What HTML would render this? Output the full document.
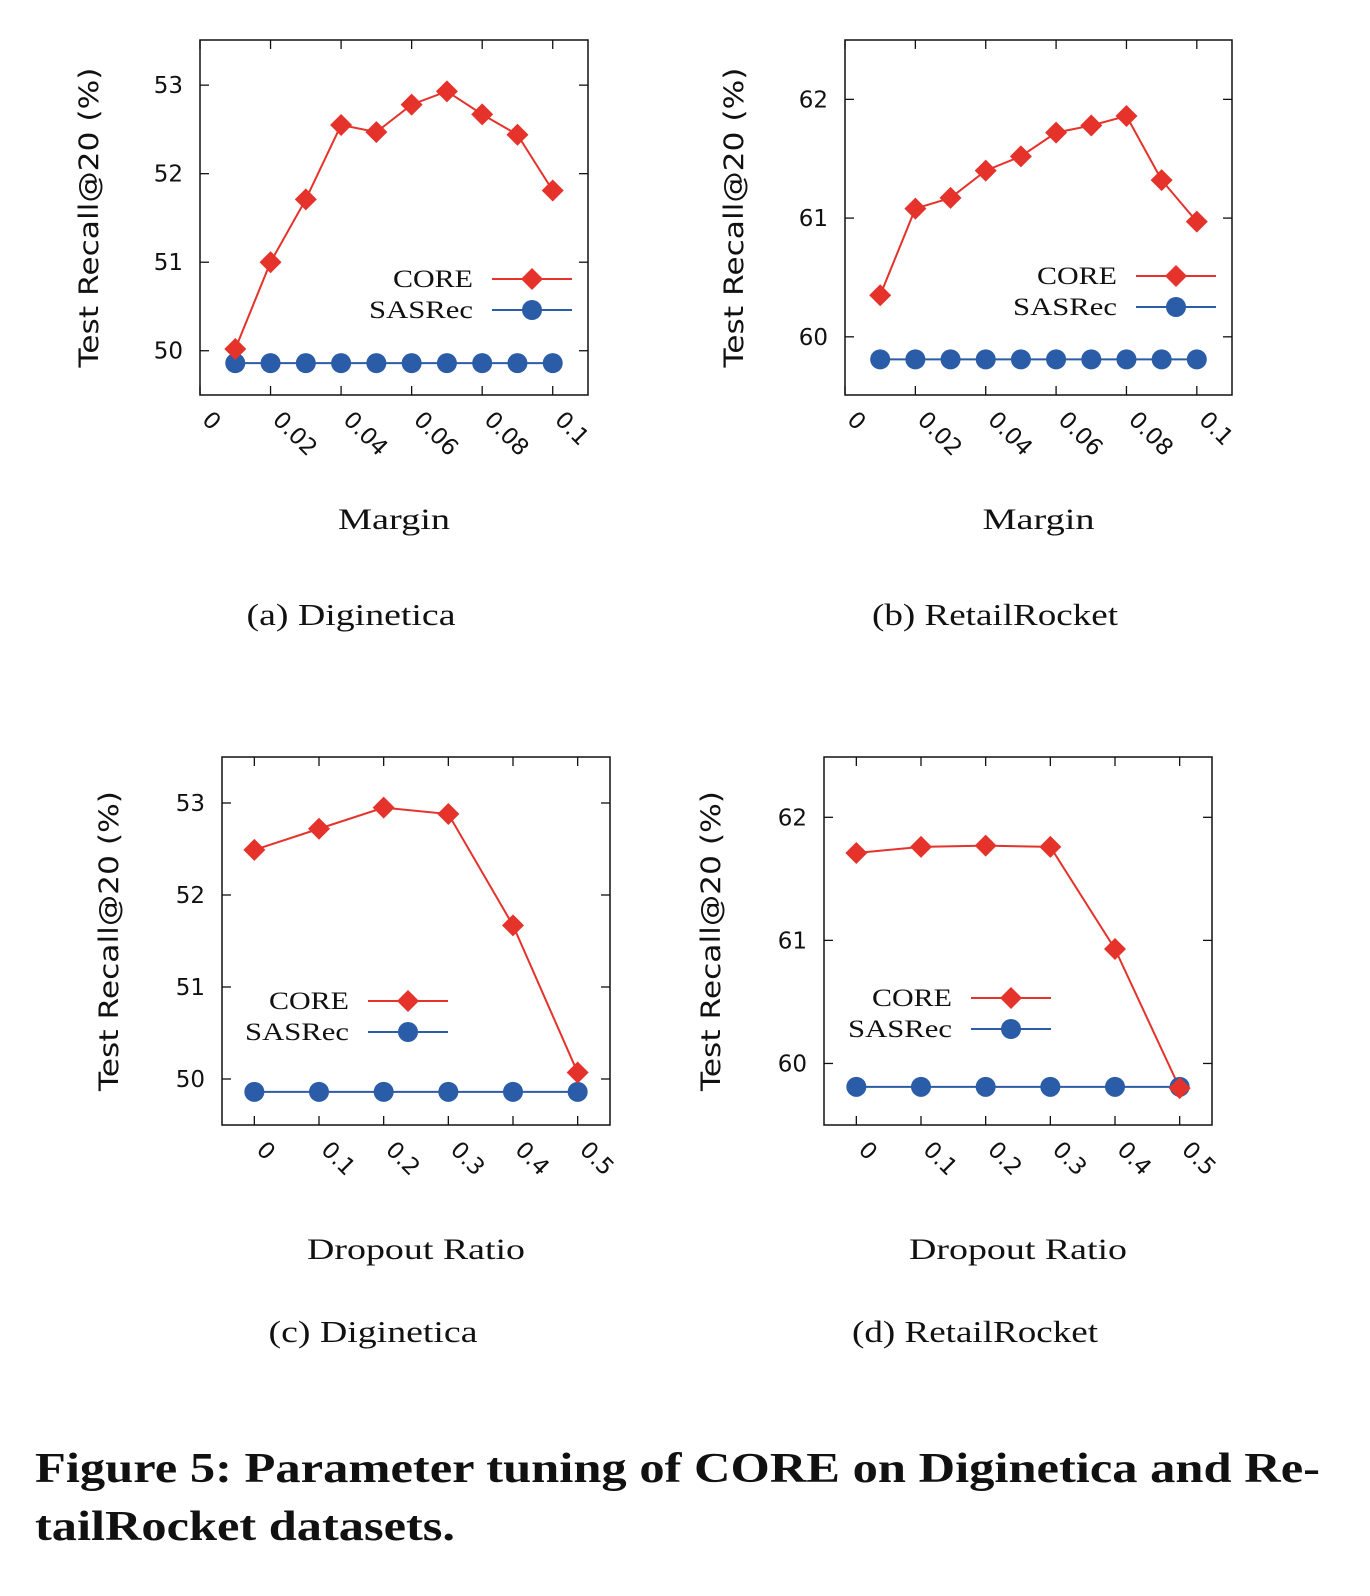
<!DOCTYPE html>
<html><head><meta charset="utf-8"><style>
body{margin:0;background:#fff;width:1370px;height:1596px;overflow:hidden}
svg{display:block}
text{font-family:"Liberation Serif",serif;fill:#111}
.sans{font-family:"DejaVu Sans","Liberation Sans",sans-serif}
</style></head><body>
<svg id="fig" width="1370" height="1596" viewBox="0 0 1370 1596">
<text x="35" y="1482" font-size="42" font-weight="bold" textLength="1285" lengthAdjust="spacingAndGlyphs">Figure 5: Parameter tuning of CORE on Diginetica and Re-</text>
<text x="35" y="1540" font-size="42" font-weight="bold" textLength="420" lengthAdjust="spacingAndGlyphs">tailRocket datasets.</text>
</svg>
<script>
const marginCats=[0.01,0.02,0.03,0.04,0.05,0.06,0.07,0.08,0.09,0.1];
const marginTicks=["0","0.02","0.04","0.06","0.08","0.1"];
const marginTickVals=[0,0.02,0.04,0.06,0.08,0.1];
const coreA=[50.02,51.0,51.71,52.55,52.47,52.78,52.93,52.67,52.44,51.81];
const sasA=[49.86,49.86,49.86,49.86,49.86,49.86,49.86,49.86,49.86,49.86];
const coreB=[60.35,61.08,61.17,61.4,61.52,61.72,61.78,61.86,61.32,60.97];
const sasB=[59.81,59.81,59.81,59.81,59.81,59.81,59.81,59.81,59.81,59.81];
const dropCats=[0,0.1,0.2,0.3,0.4,0.5];
const dropTicks=["0","0.1","0.2","0.3","0.4","0.5"];
const coreC=[52.49,52.72,52.95,52.88,51.67,50.07];
const sasC=[49.86,49.86,49.86,49.86,49.86,49.86];
const coreD=[61.71,61.76,61.77,61.76,60.93,59.8];
const sasD=[59.81,59.81,59.81,59.81,59.81,59.81];
const yTicksDig=[50,51,52,53];
const yTicksRet=[60,61,62];

const NS="http://www.w3.org/2000/svg";
const svg=document.getElementById('fig');
function el(t,a,p){const e=document.createElementNS(NS,t);for(const k in a)e.setAttribute(k,a[k]);(p||svg).appendChild(e);return e;}
const RED="#e5322b",BLUE="#2b5ca8";

function chart(o){
  const g=el('g',{});
  
  
  const X=v=>o.x0+(v-o.xmin)/(o.xmax-o.xmin)*(o.x1-o.x0);
  const Y=v=>o.y1-(v-o.ymin)/(o.ymax-o.ymin)*(o.y1-o.y0);
  const box=el('rect',{x:o.x0,y:o.y0,width:o.x1-o.x0,height:o.y1-o.y0,fill:'none',stroke:'#111','stroke-width':1.5},g);
  
  
  o.yt.forEach(v=>{
    el('line',{x1:o.x0,x2:o.x0+9,y1:Y(v),y2:Y(v),stroke:'#111','stroke-width':1.3},g);
    el('line',{x1:o.x1,x2:o.x1-9,y1:Y(v),y2:Y(v),stroke:'#111','stroke-width':1.3},g);
    const t=el('text',{x:o.x0-17,y:Y(v)+8,'font-size':23,'text-anchor':'end','class':'sans'},g);
    t.textContent=v;
    
    
  });
  o.xtv.forEach((v,i)=>{
    el('line',{x1:X(v),x2:X(v),y1:o.y1,y2:o.y1-9,stroke:'#111','stroke-width':1.3},g);
    el('line',{x1:X(v),x2:X(v),y1:o.y0,y2:o.y0+9,stroke:'#111','stroke-width':1.3},g);
    const t=el('text',{'font-size':23,'class':'sans',transform:`translate(${X(v)+1},${o.y1+26}) rotate(45)`},g);
    t.textContent=o.xt[i];
    
    
  });
  const yl=el('text',{'font-size':27,'class':'sans','text-anchor':'middle',textLength:300,lengthAdjust:'spacingAndGlyphs',transform:`translate(${o.ylx},${(o.y0+o.y1)/2}) rotate(-90)`},g);
  yl.textContent='Test Recall@20 (%)';
  
  
  const xl=el('text',{x:(o.x0+o.x1)/2,y:o.y1+134,'font-size':30,'text-anchor':'middle',textLength:o.xlw,lengthAdjust:'spacingAndGlyphs'},g);
  xl.textContent=o.xlabel;
  
  
  const cap=el('text',{x:o.capx,y:o.capy,'font-size':31,'text-anchor':'middle',textLength:o.capw,lengthAdjust:'spacingAndGlyphs'},g);
  cap.textContent=o.cap;
  
  
  const sp=el('polyline',{points:o.cats.map((c,i)=>X(c)+','+Y(o.sas[i])).join(' '),fill:'none',stroke:BLUE,'stroke-width':2},g);
  
  
  const cp=el('polyline',{points:o.cats.map((c,i)=>X(c)+','+Y(o.core[i])).join(' '),fill:'none',stroke:RED,'stroke-width':2},g);
  
  
  o.cats.forEach((c,i)=>{
    const m=el('circle',{cx:X(c),cy:Y(o.sas[i]),r:10,fill:BLUE},g);
    
    
  });
  o.cats.forEach((c,i)=>{
    const x=X(c),y=Y(o.core[i]);
    const m=el('polygon',{points:`${x},${y-11} ${x+11},${y} ${x},${y+11} ${x-11},${y}`,fill:RED},g);
    
    
  });
  [['CORE',RED,0,80],['SASRec',BLUE,1,104]].forEach(([n,col,k,w])=>{
    const ly=o.ly+k*31;
    const lg=el('g',{},g);
    
    
    const t=el('text',{x:o.lx,y:ly+8,'font-size':25,'text-anchor':'end',textLength:w,lengthAdjust:'spacingAndGlyphs'},lg);t.textContent=n;
    el('line',{x1:o.lx+19,x2:o.lx+99,y1:ly,y2:ly,stroke:col,'stroke-width':2},lg);
    const mx=o.lx+59;
    if(k==0)el('polygon',{points:`${mx},${ly-11} ${mx+11},${ly} ${mx},${ly+11} ${mx-11},${ly}`,fill:col},lg);
    else el('circle',{cx:mx,cy:ly,r:10,fill:col},lg);
  });
}
chart({name:'chart-a',x0:200,x1:588,y0:40,y1:395,xmin:0,xmax:0.11,ymin:49.5,ymax:53.51,cats:marginCats,core:coreA,sas:sasA,yt:yTicksDig,xt:marginTicks,xtv:marginTickVals,xlabel:'Margin',xlw:112,cap:'(a)  Diginetica',capw:209,capx:351,capy:625,ylx:98,lx:473,ly:279});
chart({name:'chart-b',x0:845,x1:1232,y0:40,y1:395,xmin:0,xmax:0.11,ymin:59.51,ymax:62.5,cats:marginCats,core:coreB,sas:sasB,yt:yTicksRet,xt:marginTicks,xtv:marginTickVals,xlabel:'Margin',xlw:112,cap:'(b)  RetailRocket',capw:246,capx:995,capy:625,ylx:743,lx:1117,ly:276});
chart({name:'chart-c',x0:222,x1:610,y0:757,y1:1125,xmin:-0.05,xmax:0.55,ymin:49.5,ymax:53.5,cats:dropCats,core:coreC,sas:sasC,yt:yTicksDig,xt:dropTicks,xtv:dropCats,xlabel:'Dropout Ratio',xlw:218,cap:'(c)  Diginetica',capw:209,capx:373,capy:1342,ylx:118,lx:349,ly:1001});
chart({name:'chart-d',x0:824,x1:1212,y0:757,y1:1125,xmin:-0.05,xmax:0.55,ymin:59.5,ymax:62.49,cats:dropCats,core:coreD,sas:sasD,yt:yTicksRet,xt:dropTicks,xtv:dropCats,xlabel:'Dropout Ratio',xlw:218,cap:'(d)  RetailRocket',capw:246,capx:975,capy:1342,ylx:720,lx:952,ly:998});
</script>
</body></html>
